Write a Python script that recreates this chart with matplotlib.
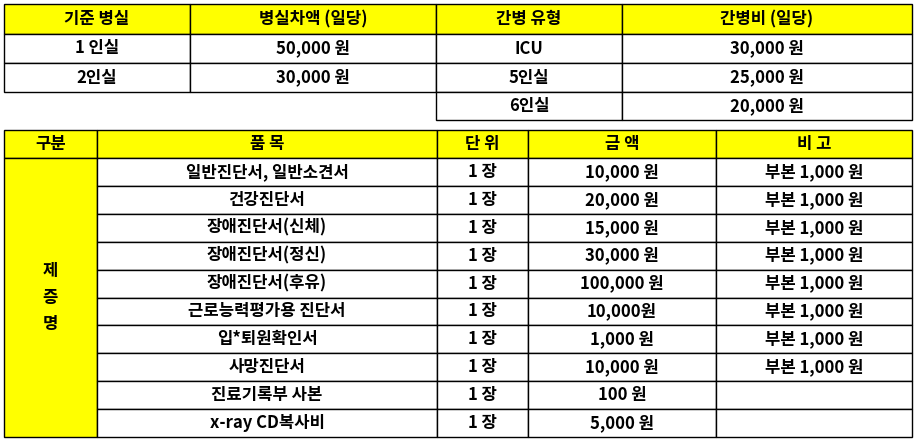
import matplotlib
matplotlib.use("Agg")
import matplotlib.pyplot as plt
from matplotlib.patches import Rectangle

plt.rcParams["font.family"] = "Noto Sans CJK KR"

room_header = ["기준 병실", "병실차액 (일당)"]
room_types = ["1 인실", "2인실"]
room_fees = ["50,000 원", "30,000 원"]
care_header = ["간병 유형", "간병비 (일당)"]
care_types = ["ICU", "5인실", "6인실"]
care_fees = ["30,000 원", "25,000 원", "20,000 원"]

cert_header = ["구분", "품 목", "단 위", "금 액", "비 고"]
cert_group = "제\n증\n명"
cert_items = ["일반진단서, 일반소견서", "건강진단서", "장애진단서(신체)", "장애진단서(정신)",
              "장애진단서(후유)", "근로능력평가용 진단서", "입*퇴원확인서", "사망진단서",
              "진료기록부 사본", "x-ray CD복사비"]
cert_units = ["1 장"] * 10
cert_prices = ["10,000 원", "20,000 원", "15,000 원", "30,000 원", "100,000 원",
               "10,000원", "1,000 원", "10,000 원", "100 원", "5,000 원"]
cert_notes = ["부본 1,000 원"] * 8 + ["", ""]

YEL = "#FFFF00"
fig = plt.figure(figsize=(9.14, 4.44), dpi=100)
ax = fig.add_axes([0, 0, 1, 1])
ax.set_xlim(0, 914)
ax.set_ylim(444, 0)
ax.axis("off")
FS = 12

def cell(x0, x1, y0, y1, text, fill="white"):
    ax.add_patch(Rectangle((x0, y0), x1 - x0, y1 - y0, facecolor=fill,
                           edgecolor="black", linewidth=1.0))
    if text:
        ax.text((x0 + x1) / 2, (y0 + y1) / 2, text, ha="center", va="center",
                fontsize=FS, fontweight="bold", linespacing=1.6)

# top tables
ty = [4, 34, 63, 92, 120]
lx = [4, 190]
rx = [436, 622, 912]
cell(4, 190, ty[0], ty[1], room_header[0], YEL)
cell(190, 436, ty[0], ty[1], room_header[1], YEL)
for i, (t, f) in enumerate(zip(room_types, room_fees)):
    cell(4, 190, ty[i + 1], ty[i + 2], t)
    cell(190, 436, ty[i + 1], ty[i + 2], f)
cell(436, 622, ty[0], ty[1], care_header[0], YEL)
cell(622, 912, ty[0], ty[1], care_header[1], YEL)
for i, (t, f) in enumerate(zip(care_types, care_fees)):
    cell(436, 622, ty[i + 1], ty[i + 2], t)
    cell(622, 912, ty[i + 1], ty[i + 2], f)

# bottom table
cx = [4, 97, 437, 528, 716, 912]
hy0, hy1 = 130, 158
rh = (437 - 158) / len(cert_items)
for j, h in enumerate(cert_header):
    cell(cx[j], cx[j + 1], hy0, hy1, h, YEL)
cell(cx[0], cx[1], hy1, 437, cert_group, YEL)
for i in range(len(cert_items)):
    y0 = hy1 + i * rh
    y1 = y0 + rh
    cell(cx[1], cx[2], y0, y1, cert_items[i])
    cell(cx[2], cx[3], y0, y1, cert_units[i])
    cell(cx[3], cx[4], y0, y1, cert_prices[i])
    cell(cx[4], cx[5], y0, y1, cert_notes[i])

fig.savefig("out.png", dpi=100)
